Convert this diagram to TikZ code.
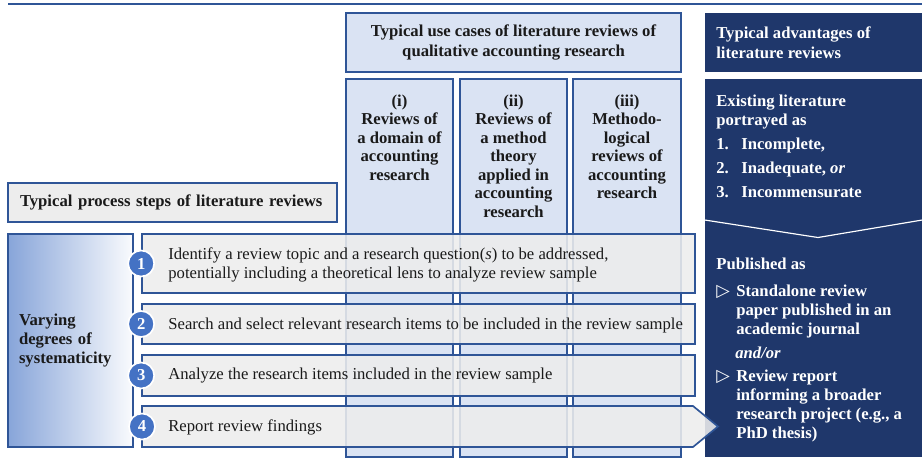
\documentclass[tikz,border=0pt]{standalone}
\usepackage{fontspec}
\setmainfont{Liberation Serif}
\newfontfamily\symfont{DejaVu Sans}
\usetikzlibrary{arrows}

\definecolor{frameblue}{HTML}{2F5597}
\definecolor{paleblue}{HTML}{DAE3F3}
\definecolor{navy}{HTML}{1F376B}
\definecolor{stepgray}{HTML}{EDEDED}
\definecolor{dotblue}{HTML}{4472C4}
\definecolor{inkdark}{HTML}{1A1A1A}

\begin{document}
\begin{tikzpicture}[x=0.6pt,y=-0.6pt,font=\fontsize{10}{11.1}\selectfont]
\tikzset{
    %Define style for the pale blue boxes
    pale/.style={
           rectangle,
           draw=frameblue, line width=1.1pt,
           fill=paleblue,
           inner sep=0pt},
    %Define style for the navy boxes
    dark/.style={
           rectangle,
           fill=navy,
           inner sep=0pt},
    %Define style for the process bars
    bar/.style={
           rectangle,
           draw=frameblue, line width=1pt,
           fill=stepgray, fill opacity=0.88,
           minimum width=331.8pt,
           inner sep=0pt},
    steptext/.style={
           anchor=west, inner sep=0pt,
           align=left,
           font=\fontsize{10}{11.4}\selectfont,
           text=inkdark},
    % Define style for the step numbers
    num/.style={
           circle,
           fill=dotblue, draw=white, line width=1pt,
           minimum size=15.6pt, inner sep=0pt,
           text=white,
           font=\fontsize{10}{11}\selectfont\bfseries},
    % Define text styles
    head/.style={font=\fontsize{10}{11.1}\selectfont\bfseries, text=inkdark, inner sep=0pt},
    light/.style={font=\fontsize{10}{11.4}\selectfont\bfseries, text=white, inner sep=0pt, align=left}
}
    \path[use as bounding box] (0,0) rectangle (922,462);

    \draw[frameblue, line width=1.2pt] (8,4) -- (922,4);

 %use cases
    \node[pale, minimum width=201pt, minimum height=35.4pt] (usehead) at (513.5,42.5) {};
    \node[head, align=center, font=\fontsize{10}{12}\selectfont\bfseries] (usetxt) at (usehead) {Typical use cases of literature reviews of\\qualitative accounting research};

    \node[pale, minimum width=64.2pt, minimum height=226.8pt] (domain) at (399.5,268) {};
    \node[pale, minimum width=64.2pt, minimum height=226.8pt] (method) at (513.5,268) {};
    \node[pale, minimum width=64.8pt, minimum height=226.8pt] (methodo) at (627,268) {};

    \node[head, align=center, anchor=north] (domaintxt) at (399.5,94.5) {(i)\\Reviews of\\a domain of\\accounting\\research};
    \node[head, align=center, anchor=north] (methodtxt) at (513.5,94.5) {(ii)\\Reviews of\\a method\\theory\\applied in\\accounting\\research};
    \node[head, align=center, anchor=north] (methodotxt) at (627,94.5) {(iii)\\Methodo-\\logical\\reviews of\\accounting\\research};

 %advantages
    \node[dark, minimum width=130.2pt, minimum height=35.4pt] (advhead) at (813.5,42.5) {};
    \node[light, anchor=west, font=\fontsize{10}{12}\selectfont\bfseries] (advtxt) at (716,43) {Typical advantages of\\literature reviews};

    \node[dark, minimum width=130.2pt, minimum height=226.8pt] (advbody) at (813.5,268) {};
    \draw[white, line width=0.7pt] (advbody.west |- 0,220) -- (818,237.5) -- (advbody.east |- 0,220);

    \node[light, anchor=north west] (existtxt) at (716,94.5) {Existing literature\\portrayed as\\[3pt]
        \makebox[15pt][l]{1.}Incomplete,\\[3pt]
        \makebox[15pt][l]{2.}Inadequate, \textit{or}\\[3pt]
        \makebox[15pt][l]{3.}Incommensurate};

    \node[light, anchor=north west] (pubtxt) at (716,257.5) {Published as\\[5pt]
        \makebox[12pt][l]{\symfont\mdseries\fontsize{10.5}{9}\selectfont ▷}Standalone review\\
        \hspace*{12pt}paper published in an\\
        \hspace*{12pt}academic journal\\[2.6pt]
        \hspace*{11.4pt}\textit{and/or}\\[2.6pt]
        \makebox[12pt][l]{\symfont\mdseries\fontsize{10.5}{9}\selectfont ▷}Review report\\
        \hspace*{12pt}informing a broader\\
        \hspace*{12pt}research project (e.g., a\\
        \hspace*{12pt}PhD thesis)};

 %process steps
    \node[rectangle, draw=frameblue, line width=1.1pt, fill=stepgray, minimum width=197.4pt, minimum height=23.4pt,
          text width=183pt, inner xsep=7.2pt, inner ysep=0pt, align=left, font=\fontsize{10}{11.1}\selectfont\bfseries,
          text=inkdark] (stepshead) at (172.5,202.5) {Typical process steps of literature reviews};

    \node[rectangle, draw=frameblue, line width=1.1pt, left color=dotblue!55!paleblue, right color=white!85!paleblue,
          minimum width=75pt, minimum height=127.8pt, text width=61.8pt, inner xsep=6.6pt, inner ysep=0pt,
          align=left, font=\fontsize{10}{11.4}\selectfont\bfseries, text=inkdark] (vary) at (70.5,340.5) {Varying\\degrees of\\systematicity};

    \node[bar, minimum height=35.4pt] (identify) at (418.5,263.5) {};
    \node[bar, minimum height=24pt] (search) at (418.5,324) {};
    \node[bar, minimum height=24.6pt] (analyze) at (418.5,375.5) {};
    \draw[frameblue, line width=1pt, fill=stepgray, fill opacity=0.88] (142,406) -- (693,406) -- (718,426.5) -- (693,447) -- (142,447) -- cycle;

    \node[steptext] (identifytxt) at (168,264.5) {Identify a review topic and a research question(\textit{s}) to be addressed,\\potentially including a theoretical lens to analyze review sample};
    \node[steptext] (searchtxt) at (168,325) {Search and select relevant research items to be included in the review sample};
    \node[steptext] (analyzetxt) at (168,376) {Analyze the research items included in the review sample};
    \node[steptext] (reporttxt) at (168,427) {Report review findings};

    \node[num] (n1) at (identify.west) {1};
    \node[num] (n2) at (search.west) {2};
    \node[num] (n3) at (analyze.west) {3};
    \node[num] (n4) at (142,426.5) {4};

\end{tikzpicture}
\end{document}
